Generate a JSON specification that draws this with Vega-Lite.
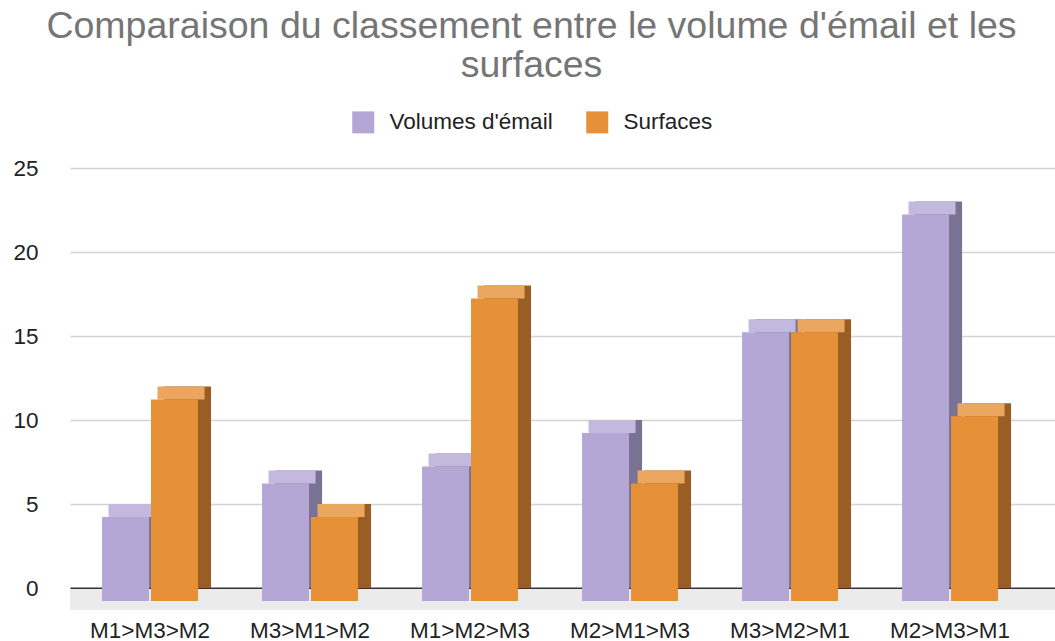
{
  "$schema": "https://vega.github.io/schema/vega-lite/v6.json",
  "width": 985,
  "height": 420,
  "autosize": "none",
  "padding": {"left": 70, "top": 168, "right": 0, "bottom": 53},
  "background": "white",
  "config": {
    "font": "Liberation Sans",
    "view": {"stroke": null}
  },
  "title": {
    "text": ["Comparaison du classement entre le volume d'émail et les", "surfaces"],
    "fontSize": 37.5,
    "fontWeight": "normal",
    "color": "#757575",
    "anchor": "middle",
    "frame": "group",
    "dx": -31,
    "offset": 27,
    "lineHeight": 39
  },
  "data": {
    "values": [
      {"classement": "M1>M3>M2", "serie": "Volumes d'émail", "valeur": 5},
      {"classement": "M1>M3>M2", "serie": "Surfaces", "valeur": 12},
      {"classement": "M3>M1>M2", "serie": "Volumes d'émail", "valeur": 7},
      {"classement": "M3>M1>M2", "serie": "Surfaces", "valeur": 5},
      {"classement": "M1>M2>M3", "serie": "Volumes d'émail", "valeur": 8},
      {"classement": "M1>M2>M3", "serie": "Surfaces", "valeur": 18},
      {"classement": "M2>M1>M3", "serie": "Volumes d'émail", "valeur": 10},
      {"classement": "M2>M1>M3", "serie": "Surfaces", "valeur": 7},
      {"classement": "M3>M2>M1", "serie": "Volumes d'émail", "valeur": 16},
      {"classement": "M3>M2>M1", "serie": "Surfaces", "valeur": 16},
      {"classement": "M2>M3>M1", "serie": "Volumes d'émail", "valeur": 23},
      {"classement": "M2>M3>M1", "serie": "Surfaces", "valeur": 11}
    ]
  },
  "encoding": {
    "x": {
      "field": "classement",
      "type": "nominal",
      "sort": null,
      "scale": {"paddingInner": 0.4, "paddingOuter": 0.278, "align": 0.36},
      "axis": {
        "title": null,
        "labelAngle": 0,
        "labelFontSize": 22.5,
        "labelColor": "#222222",
        "labelPadding": 31,
        "ticks": false,
        "domain": false
      }
    },
    "y": {
      "field": "valeur",
      "type": "quantitative",
      "scale": {"domain": [0, 25], "nice": false},
      "axis": {
        "title": null,
        "values": [0, 5, 10, 15, 20, 25],
        "labelFontSize": 22.5,
        "labelColor": "#222222",
        "labelPadding": 32,
        "ticks": false,
        "domain": false,
        "gridColor": {"condition": {"test": "datum.value === 0", "value": "#333333"}, "value": "#d3d3d3"},
        "gridWidth": {"condition": {"test": "datum.value === 0", "value": 2}, "value": 1.5}
      }
    }
  },
  "layer": [
    {
      "mark": {"type": "rect", "color": "#ebebeb", "yOffset": 1, "y2Offset": 22},
      "encoding": {
        "x": {"value": 0},
        "x2": {"value": 985},
        "y": {"datum": 0, "type": "quantitative"},
        "y2": {"datum": 0}
      }
    },
    {
      "mark": {"type": "bar", "y2Offset": 6},
      "encoding": {
        "xOffset": {"field": "serie", "sort": ["Volumes d'émail", "Surfaces"], "scale": {"range": [13, 109], "paddingInner": 0.04}},
        "fill": {"condition": {"test": "datum.serie === 'Surfaces'", "value": "#9a5e25"}, "value": "#7a7294"}
      }
    },
    {
      "mark": {"type": "bar", "yOffset": 0, "y2Offset": 13},
      "encoding": {
        "xOffset": {"field": "serie", "sort": ["Volumes d'émail", "Surfaces"], "scale": {"range": [6.5, 102.5], "paddingInner": 0.04}},
        "y2": {"field": "valeur"},
        "fill": {"condition": {"test": "datum.serie === 'Surfaces'", "value": "#eba660"}, "value": "#c3b9de"}
      }
    },
    {
      "mark": {"type": "bar", "yOffset": 13, "y2Offset": 13},
      "encoding": {
        "xOffset": {"field": "serie", "sort": ["Volumes d'émail", "Surfaces"], "scale": {"paddingInner": 0.04}},
        "color": {
          "field": "serie",
          "type": "nominal",
          "sort": ["Volumes d'émail", "Surfaces"],
          "scale": {"domain": ["Volumes d'émail", "Surfaces"], "range": ["#b4a7d6", "#e69138"]},
          "legend": {
            "title": null,
            "orient": "none",
            "legendX": 282,
            "legendY": -57,
            "direction": "horizontal",
            "symbolType": "square",
            "symbolSize": 484,
            "symbolStrokeWidth": 0,
            "symbolOpacity": 1,
            "labelFontSize": 22.5,
            "labelLimit": 400,
            "labelColor": "#222222",
            "labelOffset": 15,
            "columnPadding": 33
          }
        }
      }
    }
  ],
  "resolve": {"scale": {"xOffset": "independent"}}
}
